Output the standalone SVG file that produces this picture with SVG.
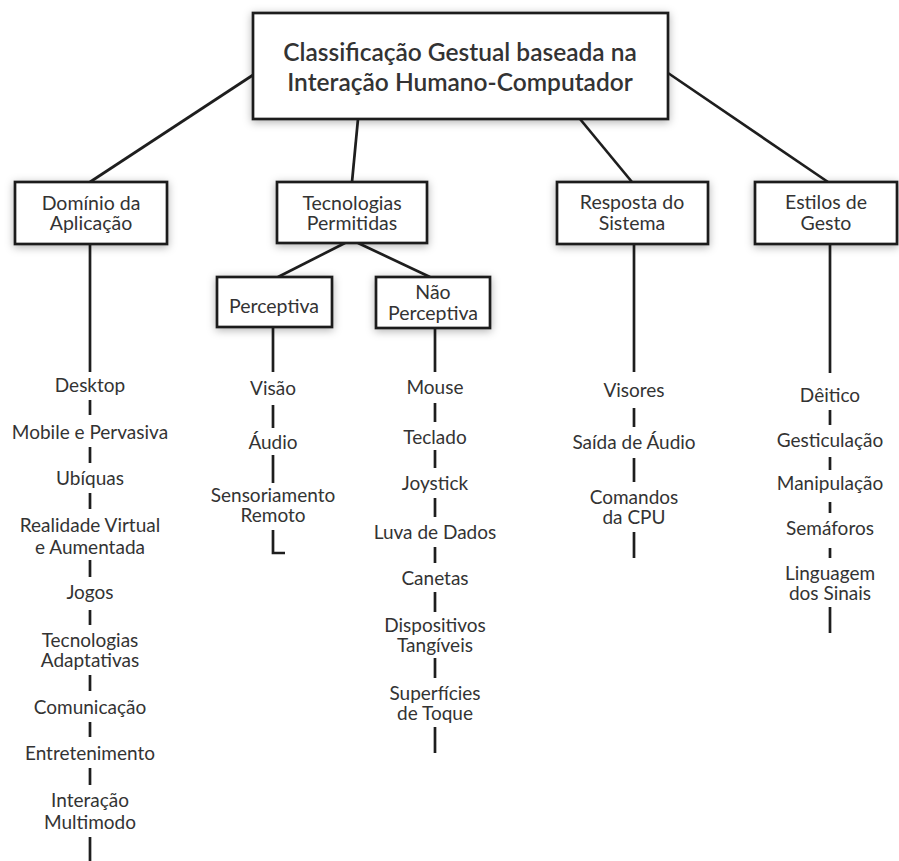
<svg xmlns="http://www.w3.org/2000/svg" width="899" height="861" viewBox="0 0 899 861">
<defs>
<filter id="sh" x="-20%" y="-30%" width="140%" height="160%">
<feDropShadow dx="0" dy="2" stdDeviation="4" flood-color="#000" flood-opacity="0.3"/>
</filter>
</defs>
<style>
.box{fill:#fff;stroke:#1e1e1e;stroke-width:2.7;filter:url(#sh)}
.t{font-family:Lato,"Open Sans",sans-serif;font-size:19px;fill:#333;text-anchor:middle}
.bl{font-size:19.5px}
.title{font-size:24.5px;font-weight:600}
.c{stroke:#1e1e1e;stroke-width:2.7;fill:none}
</style>
<rect width="899" height="861" fill="#fff"/>
<g id="connectors">
<line class="c" x1="253" y1="75" x2="90" y2="182"/>
<line class="c" x1="358" y1="119" x2="352" y2="182"/>
<line class="c" x1="580" y1="119" x2="632" y2="182"/>
<line class="c" x1="668" y1="73" x2="828" y2="182"/>
<line class="c" x1="345" y1="243" x2="278" y2="277"/>
<line class="c" x1="358" y1="243" x2="430" y2="277"/>
<path class="c" d="M90 244V372M90 400V415M90 447V463M90 493V509M90 560V577M90 610V625M90 675V691M90 722V737M90 768V785M90 837V861"/>
<path class="c" d="M273 327V372M273 405V428M273 455V483M273 530V553H285"/>
<path class="c" d="M435 328V372M435 403V422M435 450V468M435 498V517M435 547V563M435 592V612M435 658V678M435 727V753"/>
<path class="c" d="M634 244V372M634 408V427M634 458V482M634 532V558"/>
<path class="c" d="M830 244V373M830 410V425M830 457V470M830 502V513M830 548V558M830 607V633"/>
</g>
<g id="main">
<rect class="box" x="253" y="13" width="415" height="106"/>
<text class="t title" x="460" y="61">Classificação Gestual baseada na</text>
<text class="t title" x="460" y="91">Interação Humano-Computador</text>
</g>
<g id="dominio">
<rect class="box" x="15" y="182" width="152" height="62"/>
<text class="t bl" x="91" y="210">Domínio da</text>
<text class="t bl" x="91" y="230">Aplicação</text>
</g>
<g id="tecnologias">
<rect class="box" x="277" y="182" width="150" height="61"/>
<text class="t bl" x="352" y="210">Tecnologias</text>
<text class="t bl" x="352" y="230">Permitidas</text>
</g>
<g id="resposta">
<rect class="box" x="557" y="182" width="151" height="62"/>
<text class="t bl" x="632" y="209">Resposta do</text>
<text class="t bl" x="632" y="230">Sistema</text>
</g>
<g id="estilos">
<rect class="box" x="755" y="182" width="142" height="62"/>
<text class="t bl" x="826" y="209">Estilos de</text>
<text class="t bl" x="826" y="230">Gesto</text>
</g>
<g id="perceptiva">
<rect class="box" x="217" y="277" width="115" height="50"/>
<text class="t bl" x="274" y="313">Perceptiva</text>
</g>
<g id="nao-perceptiva">
<rect class="box" x="376" y="277" width="114" height="51"/>
<text class="t bl" x="433" y="299">Não</text>
<text class="t bl" x="433" y="320">Perceptiva</text>
</g>
<g id="dominio-items">
<text class="t" x="90" y="392">Desktop</text>
<text class="t" x="90" y="439">Mobile e Pervasiva</text>
<text class="t" x="90" y="485">Ubíquas</text>
<text class="t" x="90" y="532">Realidade Virtual</text>
<text class="t" x="90" y="554">e Aumentada</text>
<text class="t" x="90" y="599">Jogos</text>
<text class="t" x="90" y="647">Tecnologias</text>
<text class="t" x="90" y="667">Adaptativas</text>
<text class="t" x="90" y="714">Comunicação</text>
<text class="t" x="90" y="760">Entretenimento</text>
<text class="t" x="90" y="807">Interação</text>
<text class="t" x="90" y="829">Multimodo</text>
</g>
<g id="perceptiva-items">
<text class="t" x="273" y="395">Visão</text>
<text class="t" x="273" y="449">Áudio</text>
<text class="t" x="273" y="502">Sensoriamento</text>
<text class="t" x="273" y="522">Remoto</text>
</g>
<g id="nao-perceptiva-items">
<text class="t" x="435" y="394">Mouse</text>
<text class="t" x="435" y="444">Teclado</text>
<text class="t" x="435" y="490">Joystick</text>
<text class="t" x="435" y="539">Luva de Dados</text>
<text class="t" x="435" y="585">Canetas</text>
<text class="t" x="435" y="632">Dispositivos</text>
<text class="t" x="435" y="652">Tangíveis</text>
<text class="t" x="435" y="700">Superfícies</text>
<text class="t" x="435" y="720">de Toque</text>
</g>
<g id="resposta-items">
<text class="t" x="634" y="397">Visores</text>
<text class="t" x="634" y="449">Saída de Áudio</text>
<text class="t" x="634" y="504">Comandos</text>
<text class="t" x="634" y="524">da CPU</text>
</g>
<g id="estilos-items">
<text class="t" x="830" y="402">Dêitico</text>
<text class="t" x="830" y="447">Gesticulação</text>
<text class="t" x="830" y="490">Manipulação</text>
<text class="t" x="830" y="535">Semáforos</text>
<text class="t" x="830" y="580">Linguagem</text>
<text class="t" x="830" y="600">dos Sinais</text>
</g>
</svg>
